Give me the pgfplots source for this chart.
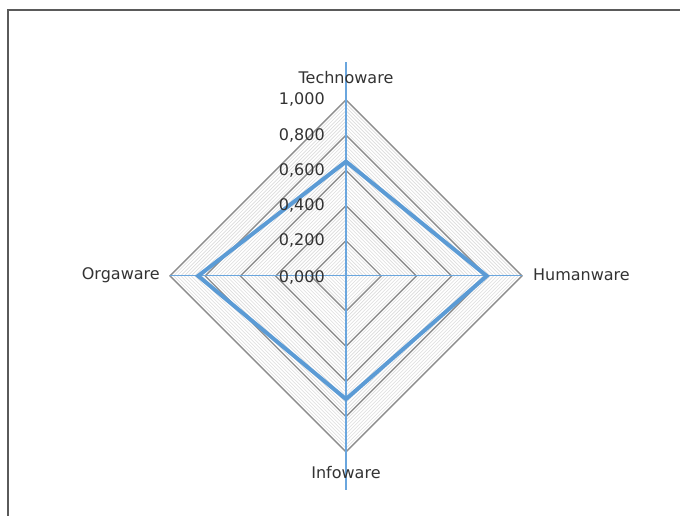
\documentclass[border=0pt]{standalone}
\usepackage{pgfplots}
\pgfplotsset{compat=1.18}
\usepackage{fontspec}
\setmainfont{DejaVu Sans}
\definecolor{serblue}{HTML}{5B9BD5}
\definecolor{axblue}{HTML}{6AA6DE}
\definecolor{ringgray}{HTML}{8E8E8E}
\definecolor{minorgray}{HTML}{DCDCDC}
\definecolor{framegray}{HTML}{5A5A5A}
\definecolor{txt}{HTML}{333333}
\begin{document}
\begin{tikzpicture}[lbl/.style={font=\fontsize{12}{14}\selectfont, text=txt, inner sep=0pt}]
\begin{axis}[x=132pt,y=132pt,xmin=-1.966,xmax=1.898,ymin=-1.364,ymax=1.568,hide axis,clip=false]
\fill[white] (axis cs:-1.966,-1.364) rectangle (axis cs:1.898,1.568);
\draw[framegray, line width=1.4pt] (axis cs:-1.920,-1.6) -- (axis cs:-1.920,1.511) -- (axis cs:2.1,1.511);
% minor rings
\pgfplotsinvokeforeach{0.02,0.04,...,0.99}{
  \addplot[draw=minorgray, line width=0.45pt, mark=none, forget plot] coordinates {(0,#1) (#1,0) (0,-#1) (-#1,0) (0,#1)} -- cycle;
}
% major rings
\pgfplotsinvokeforeach{0.2,0.4,0.6,0.8,1.0}{
  \addplot[draw=ringgray, line width=1.05pt, mark=none, forget plot] coordinates {(0,#1) (#1,0) (0,-#1) (-#1,0) (0,#1)} -- cycle;
}
% axis lines
\addplot[draw=axblue, line width=0.8pt, mark=none, forget plot] coordinates {(0,-1.216) (0,1.216)};
\addplot[draw=axblue, line width=0.8pt, mark=none, forget plot] coordinates {(-1.0,0) (1.0,0)};
% data
\addplot[draw=serblue, line width=3pt, mark=none, line join=miter] coordinates {(0,0.65) (0.80,0) (0,-0.70) (-0.84,0) (0,0.65)} -- cycle;
% tick labels
\node[lbl, anchor=east] at (axis cs:-0.119,1.0) {1,000};
\node[lbl, anchor=east] at (axis cs:-0.119,0.8) {0,800};
\node[lbl, anchor=east] at (axis cs:-0.119,0.6) {0,600};
\node[lbl, anchor=east] at (axis cs:-0.119,0.4) {0,400};
\node[lbl, anchor=east] at (axis cs:-0.119,0.2) {0,200};
\node[lbl, anchor=east] at (axis cs:-0.119,-0.01) {0,000};
% category labels
\node[lbl, anchor=center] at (axis cs:0,1.13) {Technoware};
\node[lbl, anchor=west] at (axis cs:1.062,0.005) {Humanware};
\node[lbl, anchor=east] at (axis cs:-1.057,0.005) {Orgaware};
\node[lbl, anchor=center] at (axis cs:0,-1.119) {Infoware};
\end{axis}
\pgfresetboundingbox
\useasboundingbox (current axis.south west) rectangle (current axis.north east);
\end{tikzpicture}
\end{document}
